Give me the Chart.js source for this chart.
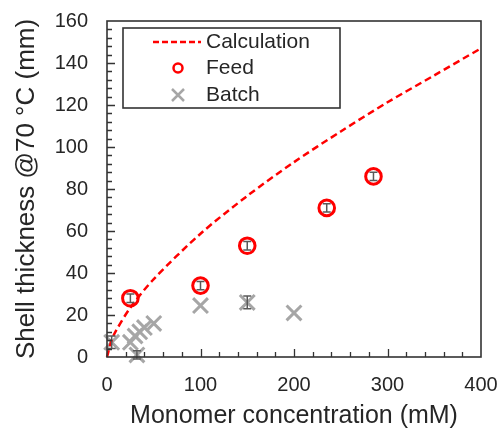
<!DOCTYPE html>
<html>
<head>
<meta charset="utf-8">
<script src="https://cdn.jsdelivr.net/npm/chart.js@4.4.1/dist/chart.umd.min.js"></script>
<style>
  html, body { margin: 0; padding: 0; background: #fff; }
  #wrap { width: 501px; height: 428px; }
</style>
</head>
<body>
<div id="wrap"><canvas id="chart"></canvas></div>
<script>
// =====================================================================
// Shell thickness vs monomer concentration — Calculation / Feed / Batch
// =====================================================================

const CORES = {
  vermelho: "#FF0000",
  cinza: "#A6A6A6",
  erro: "#595959",
  eixo: "#333333",
  texto: "#262626",
};
const FONTE = '"Liberation Sans", Arial, sans-serif';

// --------------------------------------------------------------- dados
const calcX = [0, 5, 10, 25, 50, 100, 150, 200, 250, 300, 350, 400];
const calcY = [0, 8.1, 12.8, 23.5, 37.1, 58.7, 76.7, 92.8, 107.4, 121.3, 134.1, 147];

const feedX = [25, 100, 150, 235, 285];
const feedY = [28, 34, 53, 71, 86];
const feedErr = [2, 2, 2, 2, 2];

const batchX = [5, 25, 30, 32, 35, 40, 50, 100, 150, 200];
const batchY = [7, 7, 10, 1, 12, 14, 16, 24.5, 26, 21];
const batchErr = [3, 0, 0, 2, 0, 0, 0, 0, 3, 0];

const legendLabels = ["Calculation", "Feed", "Batch"];
const xTitle = "Monomer concentration (mM)";
const yTitle = "Shell thickness @70 \u00B0C (mm)";

const pares = (xs, ys) => xs.map((x, i) => ({ x, y: ys[i] }));

// --------------------------------------------------------------- plugins
// caixa do gráfico + ticks internos (maiores e menores)
const molduraPlugin = {
  id: "moldura",
  afterDraw(chart) {
    const { ctx, chartArea: a, scales: { x, y } } = chart;
    ctx.save();
    ctx.strokeStyle = CORES.eixo;
    ctx.lineWidth = 1.6;
    ctx.strokeRect(a.left, a.top, a.right - a.left, a.bottom - a.top);
    ctx.lineWidth = 1.3;
    ctx.beginPath();
    for (let v = 20; v < 400; v += 20) {
      const px = Math.round(x.getPixelForValue(v)) + 0.5;
      const len = v % 100 === 0 ? 8 : 5;
      ctx.moveTo(px, a.bottom);
      ctx.lineTo(px, a.bottom - len);
    }
    for (let v = 4; v < 160; v += 4) {
      const py = Math.round(y.getPixelForValue(v)) + 0.5;
      const len = v % 20 === 0 ? 8 : 5;
      ctx.moveTo(a.left, py);
      ctx.lineTo(a.left + len, py);
    }
    ctx.stroke();
    ctx.restore();
  },
};

// barras de erro verticais
const errosPlugin = {
  id: "erros",
  afterDatasetsDraw(chart) {
    const { ctx, scales: { x, y } } = chart;
    const desenhar = (xs, ys, errs) => {
      xs.forEach((xv, i) => {
        const e = errs[i];
        if (!e) return;
        const px = x.getPixelForValue(xv);
        const p1 = y.getPixelForValue(ys[i] - e);
        const p2 = y.getPixelForValue(ys[i] + e);
        ctx.beginPath();
        ctx.moveTo(px, p1); ctx.lineTo(px, p2);
        ctx.moveTo(px - 4, p1); ctx.lineTo(px + 4, p1);
        ctx.moveTo(px - 4, p2); ctx.lineTo(px + 4, p2);
        ctx.stroke();
      });
    };
    ctx.save();
    ctx.strokeStyle = CORES.erro;
    ctx.lineWidth = 1.5;
    desenhar(batchX, batchY, batchErr);
    desenhar(feedX, feedY, feedErr);
    ctx.restore();
  },
};

// legenda dentro da área do gráfico, com moldura
const legendaPlugin = {
  id: "legenda",
  afterDraw(chart) {
    const { ctx } = chart;
    const box = { x: 123, y: 28, w: 217, h: 80 };
    const linhas = [42, 68, 95];
    ctx.save();
    ctx.strokeStyle = CORES.eixo;
    ctx.lineWidth = 1.6;
    ctx.strokeRect(box.x, box.y, box.w, box.h);

    // Calculation
    ctx.strokeStyle = CORES.vermelho;
    ctx.lineWidth = 2.5;
    ctx.setLineDash([6, 3]);
    ctx.beginPath();
    ctx.moveTo(153, linhas[0]); ctx.lineTo(201, linhas[0]);
    ctx.stroke();
    ctx.setLineDash([]);

    // Feed
    ctx.lineWidth = 2.5;
    ctx.beginPath();
    ctx.arc(178, linhas[1], 4.5, 0, Math.PI * 2);
    ctx.stroke();

    // Batch
    ctx.strokeStyle = CORES.cinza;
    ctx.lineWidth = 2.5;
    ctx.beginPath();
    ctx.moveTo(172, linhas[2] - 6); ctx.lineTo(184, linhas[2] + 6);
    ctx.moveTo(184, linhas[2] - 6); ctx.lineTo(172, linhas[2] + 6);
    ctx.stroke();

    ctx.fillStyle = CORES.texto;
    ctx.font = `21px ${FONTE}`;
    ctx.textBaseline = "middle";
    legendLabels.forEach((t, i) => ctx.fillText(t, 206, linhas[i]));
    ctx.restore();
  },
};

// --------------------------------------------------------------- gráfico
new Chart(document.getElementById("chart"), {
  type: "scatter",
  data: {
    datasets: [
      {
        label: legendLabels[0], data: pares(calcX, calcY), showLine: true,
        borderColor: CORES.vermelho, borderWidth: 2.5, borderDash: [7, 4],
        pointRadius: 0, tension: 0.3, clip: false,
      },
      {
        label: legendLabels[2], data: pares(batchX, batchY),
        pointStyle: "crossRot", pointRadius: 10.5, pointHoverRadius: 10.5,
        borderColor: CORES.cinza, borderWidth: 3, clip: false,
      },
      {
        label: legendLabels[1], data: pares(feedX, feedY),
        pointStyle: "circle", pointRadius: 7.8, pointHoverRadius: 7.8,
        borderColor: CORES.vermelho, backgroundColor: "rgba(255,255,255,0)", borderWidth: 3, clip: false,
      },
    ],
  },
  options: {
    responsive: true, maintainAspectRatio: false, animation: false,
    layout: { padding: { left: 0, right: 20, top: 21, bottom: 0 } },
    plugins: { legend: { display: false }, tooltip: { enabled: false } },
    scales: {
      x: {
        type: "linear", min: 0, max: 400,
        ticks: { stepSize: 100, color: CORES.texto, font: { family: FONTE, size: 20 }, padding: 16, maxRotation: 0 },
        grid: { display: false, drawTicks: false },
        border: { display: false },
        title: { display: true, text: xTitle, color: CORES.texto, font: { family: FONTE, size: 25, lineHeight: 0.95 }, padding: { top: 0, bottom: 0 } },
        afterFit(s) { s.height = 71; s.paddingLeft = 0; s.paddingRight = 0; },
      },
      y: {
        type: "linear", min: 0, max: 160,
        ticks: { stepSize: 20, color: CORES.texto, font: { family: FONTE, size: 20 }, padding: 19 },
        grid: { display: false, drawTicks: false },
        border: { display: false },
        title: { display: true, text: yTitle, color: CORES.texto, font: { family: FONTE, size: 26, lineHeight: 1.2 }, padding: { top: 11, bottom: 0 } },
        afterFit(s) { s.width = 107; s.paddingTop = 0; s.paddingBottom = 0; },
      },
    },
  },
  plugins: [errosPlugin, molduraPlugin, legendaPlugin],
});
</script>
</body>
</html>
